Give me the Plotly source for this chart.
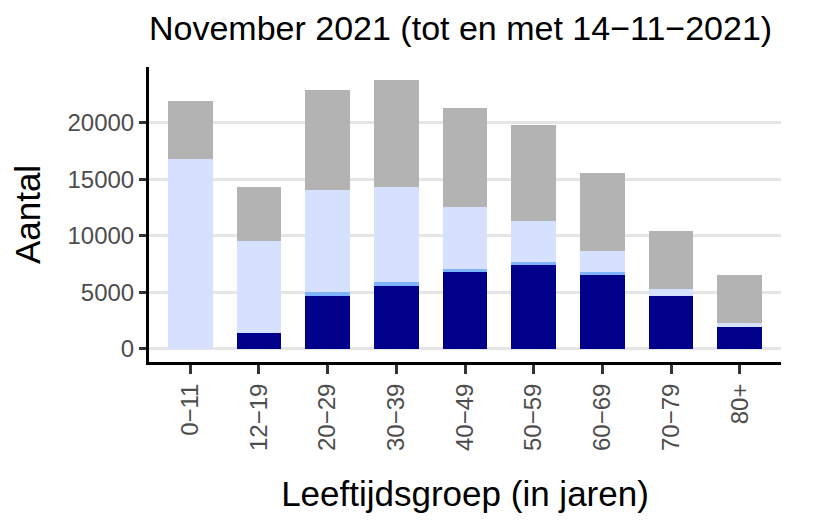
import plotly.graph_objects as go

# leeftijdsgroepen en aantallen per segment (van onder naar boven)
groepen = ["0−11", "12−19", "20−29", "30−39", "40−49", "50−59", "60−69", "70−79", "80+"]
donkerblauw = [0, 1360, 4650, 5540, 6780, 7400, 6520, 4650, 1890]
middenblauw = [0, 0, 350, 350, 270, 270, 260, 0, 0]
lichtblauw = [16830, 8180, 9070, 8450, 5510, 3650, 1870, 620, 360]
grijs = [5150, 4800, 8800, 9420, 8800, 8530, 6930, 5160, 4270]
y_ticks = [0, 5000, 10000, 15000, 20000]

FONT = "Liberation Sans, Arial, sans-serif"

# de pagina heeft 8px body-marge, dus figuur iets kleiner dan het venster
W, H = 797, 511


def add_segment(fig, values, color, name):
    fig.add_trace(go.Bar(
        x=groepen,
        y=values,
        name=name,
        marker=dict(color=color, line=dict(width=0)),
        width=0.65,
        showlegend=False,
    ))
    return fig


fig = go.Figure()
fig = add_segment(fig, donkerblauw, "#00008B", "segment 1")
fig = add_segment(fig, middenblauw, "#7FB2FF", "segment 2")
fig = add_segment(fig, lichtblauw, "#D6E0FF", "segment 3")
fig = add_segment(fig, grijs, "#B3B3B3", "segment 4")

fig.update_layout(
    barmode="stack",
    width=W,
    height=H,
    margin=dict(l=141, r=24, t=59, b=157, autoexpand=False),
    paper_bgcolor="white",
    plot_bgcolor="white",
    font=dict(family=FONT, color="black"),
    title=dict(
        text="November 2021 (tot en met 14−11−2021)",
        font=dict(size=34, color="black"),
        x=0,
        xref="paper",
        xanchor="left",
        y=1 - 20 / H,
        yref="container",
        yanchor="middle",
        automargin=False,
    ),
)

fig.update_xaxes(
    range=[-0.6, 8.6],
    automargin=False,
    showgrid=False,
    showline=True,
    linecolor="black",
    linewidth=3,
    ticks="outside",
    ticklen=9,
    tickwidth=2.5,
    tickcolor="#333333",
    tickangle=-90,
    tickfont=dict(size=24, color="#4D4D4D"),
    title=dict(text="Leeftijdsgroep (in jaren)", font=dict(size=35, color="black"), standoff=32),
)

fig.update_yaxes(
    range=[-1190, 24950],
    automargin=False,
    tickvals=y_ticks,
    ticktext=[str(v) for v in y_ticks],
    showgrid=True,
    gridcolor="#E5E5E5",
    gridwidth=2.5,
    zeroline=False,
    showline=True,
    linecolor="black",
    linewidth=3,
    ticks="outside",
    ticklen=7,
    tickwidth=2.5,
    tickcolor="#333333",
    tickfont=dict(size=24, color="#4D4D4D"),
    title=dict(text="Aantal", font=dict(size=35, color="black"), standoff=20),
)

fig.write_html("out.html")
